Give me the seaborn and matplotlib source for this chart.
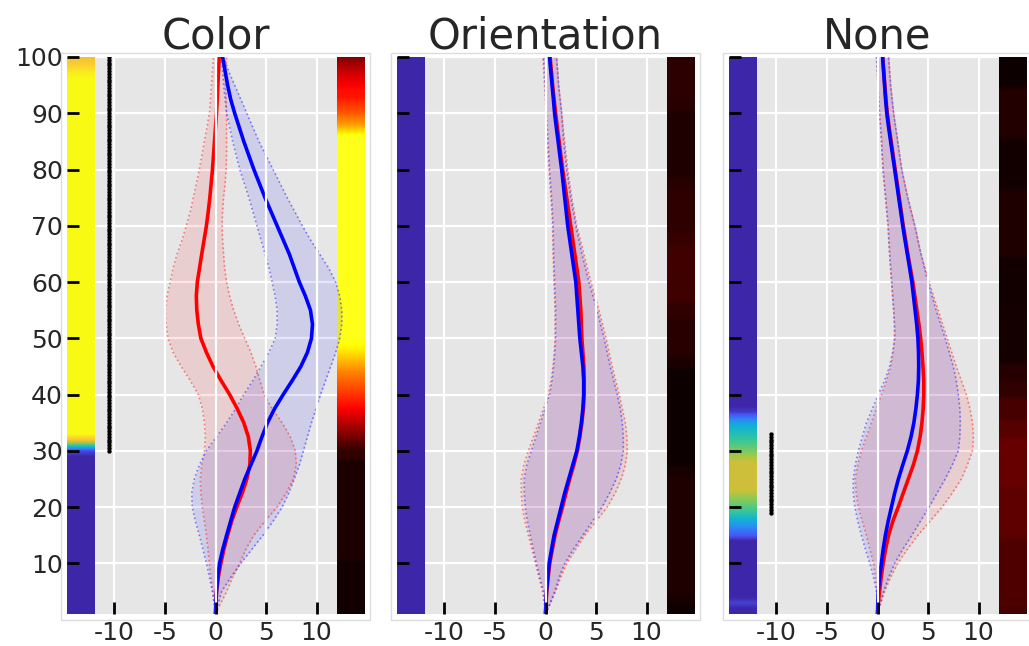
import numpy as np
import matplotlib
matplotlib.use("Agg")
import matplotlib.pyplot as plt
import seaborn as sns
from matplotlib.colors import LinearSegmentedColormap
from matplotlib.patches import Rectangle

# ---------------- data ----------------
titles = ["Color", "Orientation", "None"]
depth = [1, 2.5, 5, 7.5, 10, 12.5, 15, 17.5, 20, 22.5, 25, 27.5, 30, 32.5, 35, 37.5, 40, 42.5, 45, 47.5,
         50, 52.5, 55, 57.5, 60, 62.5, 65, 67.5, 70, 72.5, 75, 77.5, 80, 82.5, 85, 87.5, 90, 92.5, 95, 97.5, 100]
x_ticks = [-10, -5, 0, 5, 10]
y_ticks = [10, 20, 30, 40, 50, 60, 70, 80, 90, 100]

# Panel "Color"
color_red = [0, 0.03, 0.1, 0.27, 0.53, 0.83, 1.2, 1.6, 2.1, 2.65, 3.1, 3.4, 3.45, 3.25, 2.8, 2.15, 1.4, 0.55, -0.25, -0.9,
             -1.45, -1.7, -1.85, -1.9, -1.8, -1.58, -1.36, -1.13, -0.9, -0.72, -0.56, -0.43, -0.3, -0.2, -0.1, 0, 0.1, 0.17, 0.23, 0.3, 0.37]
color_red_lo = [0, -0.1, -0.3, -0.45, -0.6, -0.75, -0.9, -1.1, -1.3, -1.45, -1.5, -1.35, -1.1, -1.0, -1.1, -1.3, -1.7, -2.5, -3.4, -4.2,
                -4.7, -4.9, -4.95, -4.8, -4.5, -4.2, -3.8, -3.3, -2.9, -2.5, -2.2, -1.9, -1.6, -1.35, -1.1, -0.85, -0.6, -0.5, -0.4, -0.3, -0.2]
color_red_hi = [0, 0.4, 1.1, 1.7, 2.4, 3.0, 3.8, 4.9, 6.1, 7.0, 7.7, 8.0, 7.9, 7.4, 6.6, 5.6, 4.8, 4.4, 4.0, 3.5,
                2.9, 2.3, 1.8, 1.4, 1.1, 0.9, 0.8, 0.7, 0.65, 0.7, 0.8, 0.95, 1.05, 1.1, 1.1, 1.1, 1.1, 1.05, 1.0, 1.0, 1.1]
color_blue = [0, 0.03, 0.1, 0.22, 0.4, 0.72, 1.1, 1.5, 1.9, 2.4, 2.9, 3.5, 4.1, 4.6, 5.15, 5.85, 6.7, 7.6, 8.45, 9.1,
              9.5, 9.6, 9.4, 8.9, 8.3, 7.8, 7.3, 6.7, 6.1, 5.5, 4.9, 4.35, 3.8, 3.3, 2.8, 2.35, 1.9, 1.5, 1.2, 0.95, 0.7]
color_blue_lo = [0, -0.1, -0.3, -0.6, -0.9, -1.25, -1.6, -2.0, -2.3, -2.35, -2.1, -1.6, -0.9, 0.1, 1.1, 2.0, 2.8, 3.7, 4.5, 5.3,
                 5.9, 6.1, 6.1, 5.9, 5.6, 5.3, 4.9, 4.5, 4.1, 3.7, 3.3, 2.85, 2.4, 2.05, 1.7, 1.4, 1.1, 0.95, 0.8, 0.7, 0.6]
color_blue_hi = [0, 0.2, 0.6, 1.5, 2.5, 3.6, 4.7, 5.7, 6.6, 7.25, 7.8, 8.3, 8.7, 9.1, 9.5, 9.95, 10.4, 10.9, 11.4, 11.9,
                 12.3, 12.5, 12.5, 12.3, 11.9, 11.2, 10.3, 9.4, 8.6, 7.85, 7.1, 6.4, 5.7, 5.0, 4.3, 3.7, 3.1, 2.5, 1.9, 1.3, 0.8]

# Panel "Orientation"
orient_red = [0, 0.04, 0.12, 0.26, 0.42, 0.68, 0.95, 1.3, 1.68, 2.03, 2.4, 2.8, 3.15, 3.4, 3.6, 3.75, 3.82, 3.83, 3.8, 3.7,
              3.6, 3.55, 3.5, 3.4, 3.3, 3.1, 2.9, 2.7, 2.5, 2.3, 2.1, 1.9, 1.7, 1.52, 1.35, 1.17, 1.0, 0.85, 0.7, 0.58, 0.45]
orient_red_lo = [0, -0.1, -0.3, -0.65, -1.0, -1.35, -1.7, -2.05, -2.3, -2.4, -2.4, -2.15, -1.7, -1.2, -0.7, -0.2, 0.3, 0.55, 0.75, 0.87,
                 0.95, 0.95, 0.95, 0.9, 0.85, 0.8, 0.75, 0.73, 0.7, 0.63, 0.55, 0.45, 0.35, 0.27, 0.2, 0.13, 0.05, -0.02, -0.1, -0.17, -0.25]
orient_red_hi = [0, 0.4, 1.0, 1.5, 2.1, 3.0, 3.9, 5.0, 6.1, 6.9, 7.5, 7.9, 8.1, 8.05, 7.9, 7.6, 7.3, 6.95, 6.6, 6.3,
                 6.0, 5.65, 5.3, 4.9, 4.5, 4.15, 3.8, 3.45, 3.1, 2.85, 2.6, 2.4, 2.2, 2.05, 1.9, 1.75, 1.6, 1.45, 1.3, 1.2, 1.1]
orient_blue = [0, 0.03, 0.1, 0.22, 0.36, 0.6, 0.85, 1.2, 1.55, 1.9, 2.3, 2.7, 3.1, 3.35, 3.55, 3.7, 3.78, 3.78, 3.7, 3.55,
               3.4, 3.3, 3.2, 3.1, 3.0, 2.8, 2.6, 2.4, 2.2, 2.05, 1.9, 1.75, 1.6, 1.42, 1.25, 1.07, 0.9, 0.78, 0.65, 0.52, 0.4]
orient_blue_lo = [0, -0.05, -0.2, -0.55, -0.9, -1.2, -1.5, -1.8, -2.0, -2.1, -2.1, -1.85, -1.4, -0.95, -0.5, -0.05, 0.4, 0.65, 0.8, 0.92,
                  1.0, 1.0, 1.0, 0.95, 0.9, 0.85, 0.8, 0.78, 0.75, 0.68, 0.6, 0.5, 0.4, 0.32, 0.25, 0.18, 0.1, 0.03, -0.05, -0.12, -0.2]
orient_blue_hi = [0, 0.35, 0.9, 1.35, 1.9, 2.75, 3.7, 4.65, 5.6, 6.35, 7.0, 7.45, 7.7, 7.7, 7.6, 7.4, 7.1, 6.75, 6.4, 6.1,
                  5.8, 5.45, 5.1, 4.7, 4.3, 3.95, 3.6, 3.3, 3.0, 2.75, 2.5, 2.3, 2.1, 1.95, 1.8, 1.7, 1.6, 1.45, 1.3, 1.2, 1.1]

# Panel "None"
none_red = [0, 0.06, 0.2, 0.36, 0.56, 0.8, 1.1, 1.52, 2.05, 2.55, 3.05, 3.55, 3.95, 4.22, 4.4, 4.52, 4.58, 4.58, 4.5, 4.4,
            4.27, 4.1, 3.9, 3.7, 3.5, 3.25, 3.0, 2.78, 2.55, 2.35, 2.15, 1.95, 1.75, 1.55, 1.35, 1.15, 0.97, 0.83, 0.72, 0.62, 0.52]
none_red_lo = [0, -0.01, -0.05, -0.2, -0.4, -0.75, -1.1, -1.5, -1.9, -2.1, -2.2, -1.95, -1.6, -1.1, -0.6, -0.1, 0.4, 0.9, 1.3, 1.55,
               1.7, 1.68, 1.6, 1.5, 1.4, 1.3, 1.2, 1.12, 1.05, 0.92, 0.8, 0.67, 0.55, 0.47, 0.4, 0.3, 0.2, 0.12, 0.05, -0.03, -0.1]
none_red_hi = [0, 0.25, 0.7, 1.3, 2.0, 2.95, 4.0, 5.2, 6.4, 7.4, 8.3, 8.9, 9.4, 9.5, 9.4, 9.15, 8.8, 8.3, 7.8, 7.35,
               6.9, 6.45, 6.0, 5.55, 5.1, 4.7, 4.3, 4.0, 3.7, 3.35, 3.0, 2.7, 2.4, 2.2, 2.0, 1.8, 1.6, 1.45, 1.3, 1.2, 1.1]
none_blue = [0, 0.02, 0.07, 0.2, 0.38, 0.56, 0.78, 1.06, 1.38, 1.7, 2.07, 2.5, 2.95, 3.32, 3.6, 3.8, 3.95, 4.05, 4.08, 4.06,
             4.0, 3.88, 3.72, 3.56, 3.4, 3.18, 2.95, 2.72, 2.5, 2.3, 2.1, 1.9, 1.7, 1.5, 1.3, 1.1, 0.92, 0.8, 0.7, 0.6, 0.5]
none_blue_lo = [0, -0.02, -0.1, -0.4, -0.76, -1.2, -1.6, -1.95, -2.25, -2.4, -2.4, -2.2, -1.9, -1.5, -1.1, -0.5, 0.07, 0.7, 1.2, 1.5,
                1.7, 1.68, 1.6, 1.5, 1.4, 1.3, 1.2, 1.12, 1.05, 0.92, 0.8, 0.67, 0.55, 0.47, 0.4, 0.3, 0.2, 0.12, 0.05, -0.03, -0.1]
none_blue_hi = [0, 0.2, 0.6, 1.1, 1.7, 2.5, 3.4, 4.25, 5.1, 5.9, 6.7, 7.4, 8.0, 8.15, 8.2, 8.15, 8.0, 7.8, 7.5, 7.1,
                6.7, 6.25, 5.8, 5.4, 5.0, 4.65, 4.3, 4.0, 3.7, 3.35, 3.0, 2.7, 2.4, 2.2, 2.0, 1.8, 1.6, 1.45, 1.3, 1.2, 1.1]

# Left strips (parula-like map), segments: (first depth, last depth, value)
strip_left_color  = [(1, 29, 0.0), (30, 30, 0.1), (31, 31, 0.5), (32, 32, 0.85), (33, 96, 1.0),
                     (97, 97, 0.97), (98, 98, 0.92), (99, 99, 0.86), (100, 100, 0.8)]
strip_left_orient = [(1, 100, 0.0)]
strip_left_none   = [(1, 2, 0.0), (3, 3, 0.08), (4, 14, 0.0), (15, 15, 0.15), (16, 16, 0.22), (17, 17, 0.32),
                     (18, 18, 0.4), (19, 19, 0.48), (20, 20, 0.55), (21, 21, 0.6), (22, 22, 0.65),
                     (23, 28, 0.72), (29, 29, 0.66), (30, 30, 0.6), (31, 31, 0.55), (32, 32, 0.5),
                     (33, 33, 0.45), (34, 34, 0.4), (35, 35, 0.33), (36, 36, 0.2), (37, 37, 0.05), (38, 100, 0.0)]

# Right strips (hot map)
strip_right_color  = [(1, 10, 0.012), (11, 25, 0.03), (26, 28, 0.03), (29, 30, 0.06), (31, 31, 0.1),
                      (32, 32, 0.14), (33, 33, 0.18), (34, 34, 0.22), (35, 35, 0.26), (36, 36, 0.3),
                      (37, 37, 0.34), (38, 38, 0.38), (39, 39, 0.41), (40, 40, 0.44), (41, 41, 0.47),
                      (42, 42, 0.5), (43, 43, 0.53), (44, 44, 0.56), (45, 45, 0.6), (46, 46, 0.64),
                      (47, 47, 0.68), (48, 48, 0.72), (49, 49, 0.75), (50, 86, 0.77), (87, 87, 0.68),
                      (88, 88, 0.6), (89, 89, 0.55), (90, 90, 0.5), (91, 91, 0.46), (92, 92, 0.43),
                      (93, 94, 0.39), (95, 95, 0.36), (96, 96, 0.33), (97, 97, 0.3), (98, 98, 0.26),
                      (99, 99, 0.22), (100, 100, 0.18)]
strip_right_orient = [(1, 2, 0.005), (3, 4, 0.02), (5, 25, 0.034), (26, 27, 0.02), (28, 44, 0.005),
                      (45, 46, 0.025), (47, 53, 0.043), (54, 56, 0.06), (57, 66, 0.08), (67, 68, 0.07),
                      (69, 76, 0.057), (77, 78, 0.045), (79, 90, 0.034), (91, 92, 0.045), (93, 100, 0.054)]
strip_right_none   = [(1, 2, 0.09), (3, 14, 0.105), (15, 23, 0.125), (24, 32, 0.137), (33, 35, 0.115),
                      (36, 39, 0.09), (40, 42, 0.06), (43, 45, 0.04), (46, 55, 0.018), (56, 64, 0.012),
                      (65, 76, 0.035), (77, 85, 0.015), (86, 94, 0.037), (95, 100, 0.005)]

# Black dot columns: (x, first depth, last depth, step)
dots_color = (-10.5, 30, 100, 0.5)
dots_none  = (-10.5, 19, 33, 0.5)

panels = [
    dict(title=titles[0], red=color_red, red_lo=color_red_lo, red_hi=color_red_hi,
         blue=color_blue, blue_lo=color_blue_lo, blue_hi=color_blue_hi,
         left=strip_left_color, right=strip_right_color, dots=dots_color),
    dict(title=titles[1], red=orient_red, red_lo=orient_red_lo, red_hi=orient_red_hi,
         blue=orient_blue, blue_lo=orient_blue_lo, blue_hi=orient_blue_hi,
         left=strip_left_orient, right=strip_right_orient, dots=None),
    dict(title=titles[2], red=none_red, red_lo=none_red_lo, red_hi=none_red_hi,
         blue=none_blue, blue_lo=none_blue_lo, blue_hi=none_blue_hi,
         left=strip_left_none, right=strip_right_none, dots=dots_none),
]

# ---------------- style ----------------
sns.set_style("darkgrid", {"axes.facecolor": "#E6E6E6", "grid.color": "white"})
plt.rcParams["font.family"] = ["DejaVu Sans"]
plt.rcParams["axes.unicode_minus"] = False

parula = LinearSegmentedColormap.from_list("parula_like", [
    (0.000, (0.2422, 0.1504, 0.6603)),
    (0.127, (0.2810, 0.3228, 0.9579)),
    (0.254, (0.1786, 0.5289, 0.9682)),
    (0.381, (0.0689, 0.6948, 0.8394)),
    (0.508, (0.2161, 0.7843, 0.5923)),
    (0.635, (0.5783, 0.7918, 0.3100)),
    (0.762, (0.9184, 0.7308, 0.1890)),
    (0.889, (0.9892, 0.8136, 0.1885)),
    (1.000, (0.9769, 0.9839, 0.0805)),
])
hot = plt.get_cmap("hot")


def expand(segments):
    arr = np.zeros(100)
    for a, b, v in segments:
        arr[a - 1:b] = v
    return arr.reshape(-1, 1)


W, H = 1029, 646
fig = plt.figure(figsize=(W / 100, H / 100), dpi=100)
lefts_px = [67, 397, 729]
XL = (-14.7, 14.7)

for i, (p, lp) in enumerate(zip(panels, lefts_px)):
    ax = fig.add_axes([lp / W, 32 / H, 297 / W, 557 / H])
    ax.set_xlim(*XL)
    ax.set_ylim(1, 100)

    # grid: vertical from axis, horizontal drawn below the strips
    ax.grid(axis="x", color="white", lw=1.6)
    ax.grid(axis="y", visible=False)
    for v in y_ticks:
        ax.axhline(v, color="white", lw=1.6, zorder=0.5)

    # strips
    ax.imshow(expand(p["left"]), cmap=parula, vmin=0, vmax=1, origin="lower",
              extent=(XL[0], -12.0, 0.5, 100.5), aspect="auto", interpolation="bilinear", zorder=1)
    ax.imshow(expand(p["right"]), cmap=hot, vmin=0, vmax=1, origin="lower",
              extent=(12.0, XL[1], 0.5, 100.5), aspect="auto", interpolation="bilinear", zorder=1)

    # confidence bands
    for c, lo, hi in (("red", p["red_lo"], p["red_hi"]), ("blue", p["blue_lo"], p["blue_hi"])):
        ax.fill_betweenx(depth, lo, hi, color=c, alpha=0.1, lw=0, zorder=2)
        ax.plot(lo, depth, ls=":", color=c, lw=1.2, alpha=0.45, zorder=2.2)
        ax.plot(hi, depth, ls=":", color=c, lw=1.2, alpha=0.45, zorder=2.2)

    sns.lineplot(x=p["red"], y=depth, orient="y", color="red", lw=2.6, ax=ax, zorder=3)
    sns.lineplot(x=p["blue"], y=depth, orient="y", color="blue", lw=2.6, ax=ax, zorder=3.1)

    if p["dots"] is not None:
        dx, d0, d1, st = p["dots"]
        dy = np.arange(d0, d1 + st / 2, st)
        sns.scatterplot(x=np.full(len(dy), dx), y=dy, color="black", s=10, linewidth=0,
                        ax=ax, zorder=4)

    ax.set_xlim(*XL)
    ax.set_ylim(1, 100)
    ax.set_xticks(x_ticks)
    ax.set_xticklabels([str(t) for t in x_ticks])
    ax.set_yticks(y_ticks)
    if i == 0:
        ax.set_yticklabels([str(t) for t in y_ticks])
    else:
        ax.set_yticklabels([])
    ax.tick_params(axis="both", direction="in", length=8.5, width=2, color="black",
                   labelsize=18, pad=3, bottom=True, left=True, top=False, right=False)
    ax.tick_params(axis="x", pad=5)
    ax.yaxis.set_zorder(5)
    ax.xaxis.set_zorder(5)
    ax.set_xlabel("")
    ax.set_ylabel("")
    for s in ax.spines.values():
        s.set_visible(False)
    ax.set_title(p["title"], fontsize=30, pad=6)

    ax.add_patch(Rectangle((-6 / 297, -6 / 557), 1 + 12 / 297, 1 + 10 / 557, transform=ax.transAxes,
                           fill=False, ec="#dddddd", lw=1, clip_on=False, zorder=0))

fig.savefig("out.png", dpi=100)
